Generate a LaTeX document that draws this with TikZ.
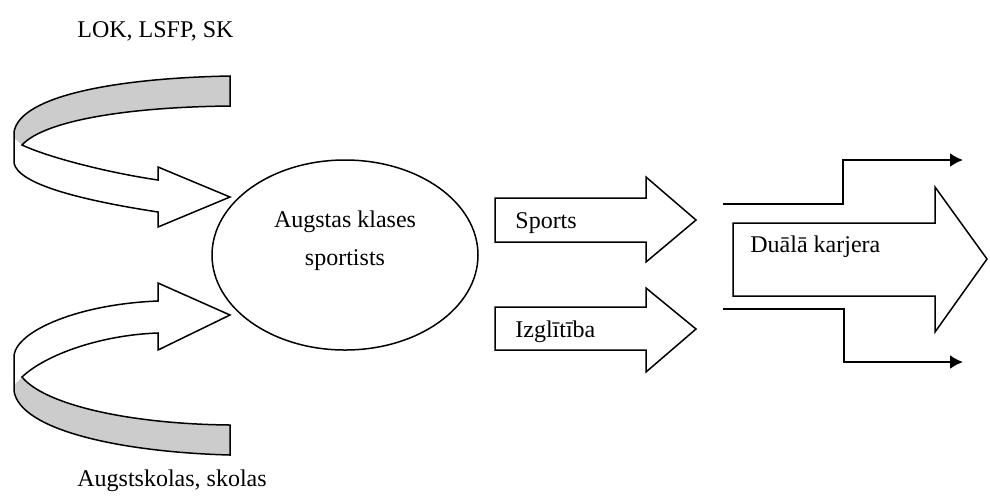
\documentclass[tikz,border=0pt]{standalone}
\usepackage{fontspec}
\setmainfont{Liberation Serif}
\usetikzlibrary{arrows.meta,shapes.geometric}

\begin{document}
\begin{tikzpicture}[
    x=0.5pt, y=-0.5pt,
    outline/.style={line width=0.75pt, line join=miter},
    band/.style={fill=gray!40},
    elbow/.style={line width=1pt, -{Latex[length=6.5pt,width=7pt]}},
    txt/.style={font=\fontsize{12}{14}\selectfont, inner sep=0pt, anchor=base west},
    every node/.style={color=black}
    ]

\useasboundingbox (0,0) rectangle (990,495);

% upper twisted arrow
\fill[band] (230,76) .. controls (120,78) and (20,95) .. (14,132)
    -- (14,138) -- (22,145) .. controls (45,120) and (130,107) .. (230,106) -- cycle;
\draw[outline] (230,76) .. controls (120,78) and (20,95) .. (14,132) -- (14,163)
    .. controls (18,184) and (80,200) .. (158,212) -- (158,227) -- (230,197)
    -- (158,167) -- (158,180) .. controls (110,173) and (50,158) .. (22,145)
    .. controls (45,120) and (130,107) .. (230,106) -- cycle;

% lower twisted arrow
\fill[band] (230,455) .. controls (120,452) and (20,430) .. (14,391)
    -- (14,385) -- (22,377) .. controls (45,405) and (130,424) .. (230,425) -- cycle;
\draw[outline] (230,455) .. controls (120,452) and (20,430) .. (14,391) -- (14,355)
    .. controls (18,330) and (80,304) .. (158,301) -- (158,283) -- (230,315)
    -- (158,350) -- (158,333) .. controls (100,335) and (45,355) .. (22,377)
    .. controls (45,405) and (130,424) .. (230,425) -- cycle;

\node[txt] (lok) at (77,37) {LOK, LSFP, SK};
\node[txt] (skolas) at (77,486) {Augstskolas, skolas};

\node[draw, ellipse, outline, minimum width=133pt, minimum height=95pt,
    inner sep=0pt] (sportisti) at (345,255) {};
\node[txt, anchor=base] (augstas) at (345,227) {Augstas klases};
\node[txt, anchor=base] (sportists) at (345,265) {sportists};

\draw[outline] (495,198) -- (646,198) -- (646,177) -- (696,220) -- (646,262)
    -- (646,242) -- (495,242) -- cycle;
\node[txt] (sports) at (515,228) {Sports};

\draw[outline] (495,307) -- (646,307) -- (646,288) -- (696,329) -- (646,372)
    -- (646,350) -- (495,350) -- cycle;
\node[txt] (izglitiba) at (515,337) {Izglītība};

\draw[outline] (733,223) -- (935,223) -- (935,187) -- (987,259) -- (935,332)
    -- (935,296) -- (733,296) -- cycle;
\node[txt] (karjera) at (750,252) {Duālā karjera};

\coordinate (topin) at (723,204);
\coordinate (topout) at (963,160);
\coordinate (botin) at (723,309);
\coordinate (botout) at (963,362);
\draw[elbow] (topin) -- ++(120,0) |- (topout);
\draw[elbow] (botin) -- ++(121,0) |- (botout);

\end{tikzpicture}
\end{document}
